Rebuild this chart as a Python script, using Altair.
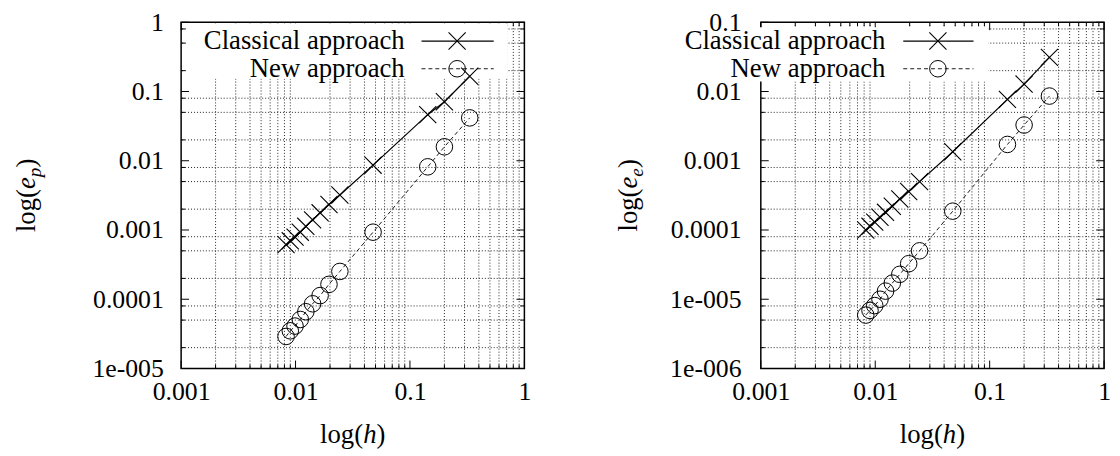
import math
import altair as alt
import pandas as pd

# ---------------- data ----------------
h = [0.333, 0.2, 0.143, 0.0476, 0.0244, 0.0196, 0.0164, 0.0141, 0.0123, 0.011, 0.0099, 0.009, 0.00826]

ep_classical = [0.166, 0.0711, 0.0463, 0.00863, 0.0032, 0.00233, 0.00177, 0.0014, 0.00113,
                0.00093, 0.00079, 0.000698, 0.000614]
ep_new = [0.0416, 0.0159, 0.00817, 0.00093, 0.000252, 0.000164, 0.000113, 0.000086, 0.000066,
          0.000051, 0.000041, 0.000035, 0.000029]

ee_classical = [0.0311, 0.0128, 0.0077, 0.00135, 0.0005, 0.00036, 0.00028, 0.00022, 0.00018,
                0.000153, 0.00013, 0.000113, 0.0001]
ee_new = [0.00859, 0.00328, 0.00172, 0.000187, 0.00005, 0.0000326, 0.0000229, 0.0000171,
          0.0000131, 0.00001, 0.0000081, 0.0000069, 0.0000059]

series_names = ["Classical approach", "New approach"]

x_ticks = [0.001, 0.01, 0.1, 1]
x_labels = ["0.001", "0.01", "0.1", "1"]

yp_ticks = [1, 0.1, 0.01, 0.001, 0.0001, 0.00001]
yp_labels = ["1", "0.1", "0.01", "0.001", "0.0001", "1e-005"]

ye_ticks = [0.1, 0.01, 0.001, 0.0001, 0.00001, 0.000001]
ye_labels = ["0.1", "0.01", "0.001", "0.0001", "1e-005", "1e-006"]

# axis titles: (plain, italic, subscript, plain)
x_title = ("log(", "h", "", ")")
yp_title = ("log(", "e", "p", ")")
ye_title = ("log(", "e", "e", ")")

FONT = "Liberation Serif"
FS = 26        # tick labels
TFS = 27       # axis titles
LFS = 27       # key text
W, H = 347, 350
CROSS = "M-1,-1L1,1M-1,1L1,-1"

# Times / Liberation Serif advance widths (em)
ADV = {"log(": 1.611, "h": 0.5, "e": 0.444, "p": 0.5, ")": 0.333}


def label_expr(values, labels):
    expr = "''"
    for v, l in zip(values, labels):
        e = round(math.log10(v))
        expr = f"(round(log(datum.value)/LN10) == {e} ? '{l}' : {expr})"
    return expr


def minor_positions(lo, hi, mults):
    out = []
    k = round(math.log10(lo))
    while 10 ** k < hi:
        for m in mults:
            v = m * 10 ** k
            if lo < v < hi:
                out.append(v)
        k += 1
    return out


def title_layers(parts, horizontal, center, base):
    """Build an axis title from plain / italic / subscript pieces."""
    one = pd.DataFrame({"a": [0]})
    plain, ital, sub, close = parts
    sfs = TFS * 0.72
    pieces = [(plain, TFS, "normal", 0), (ital, TFS, "italic", 0),
              (sub, sfs, "italic", TFS * 0.22), (close, TFS, "normal", 0)]
    pieces = [p for p in pieces if p[0]]
    widths = [ADV.get(t, 0.5) * fs for t, fs, _, _ in pieces]
    total = sum(widths)
    out = []
    pos = -total / 2
    for (t, fs, style, shift), w in zip(pieces, widths):
        mk = alt.Chart(one).mark_text(
            text=t, font=FONT, fontSize=fs, fontStyle=style, color="black",
            align="left", baseline="alphabetic", angle=0 if horizontal else 270)
        if horizontal:
            enc = dict(x=alt.value(center + pos), y=alt.value(base + shift))
        else:
            enc = dict(y=alt.value(center - pos), x=alt.value(base + shift))
        out.append(mk.encode(**enc))
        pos += w
    return out


def panel(e_cls, e_new, yticks, ylabels, ytitle, leg):
    ydom = [min(yticks), max(yticks)]
    xs = alt.Scale(type="log", domain=[0.001, 1], nice=False)
    ys = alt.Scale(type="log", domain=ydom, nice=False)

    xaxis = alt.Axis(values=x_ticks, labelExpr=label_expr(x_ticks, x_labels), ticks=False,
                     domain=False, grid=False, title=None, labelPadding=10, labelFlush=False)
    yaxis = alt.Axis(values=yticks, labelExpr=label_expr(yticks, ylabels), ticks=False,
                     domain=False, grid=False, title=None, labelPadding=leg["lpad"],
                     labelFlush=False)

    def X(f):
        return alt.X(f, type="quantitative", scale=xs, axis=xaxis)

    def Y(f):
        return alt.Y(f, type="quantitative", scale=ys, axis=yaxis)

    xminor = minor_positions(0.001, 1, range(2, 10))
    ygrid = minor_positions(ydom[0], ydom[1], [2, 5, 8])
    one = pd.DataFrame({"a": [0]})

    grid_style = dict(color="#222", strokeDash=[1, 2], strokeWidth=1)
    layers = [
        alt.Chart(pd.DataFrame({"v": xminor})).mark_rule(**grid_style).encode(x=X("v")),
        alt.Chart(pd.DataFrame({"v": ygrid})).mark_rule(**grid_style).encode(y=Y("v")),
    ]
    tick_style = dict(color="black", strokeWidth=1)
    for vals, ln in ((x_ticks, 8), (xminor, 4)):
        d = pd.DataFrame({"v": vals})
        layers.append(alt.Chart(d).mark_rule(**tick_style).encode(
            x=X("v"), y=alt.value(H), y2=alt.value(H - ln)))
        layers.append(alt.Chart(d).mark_rule(**tick_style).encode(
            x=X("v"), y=alt.value(0), y2=alt.value(ln)))
    for vals, ln in ((yticks, 8), (ygrid, 4)):
        d = pd.DataFrame({"v": vals})
        layers.append(alt.Chart(d).mark_rule(**tick_style).encode(
            y=Y("v"), x=alt.value(0), x2=alt.value(ln)))
        layers.append(alt.Chart(d).mark_rule(**tick_style).encode(
            y=Y("v"), x=alt.value(W), x2=alt.value(W - ln)))

    # opaque key box
    layers.append(alt.Chart(one).mark_rect(color="white").encode(
        x=alt.value(leg["box"][0]), x2=alt.value(leg["box"][1]),
        y=alt.value(leg["box"][2]), y2=alt.value(leg["box"][3])))

    dc = pd.DataFrame({"h": h, "e": e_cls})
    dn = pd.DataFrame({"h": h, "e": e_new})
    layers += [
        alt.Chart(dc).mark_line(color="black", strokeWidth=1.2).encode(x=X("h"), y=Y("e")),
        alt.Chart(dn).mark_line(color="black", strokeWidth=0.9, strokeDash=[4, 3]).encode(
            x=X("h"), y=Y("e")),
        alt.Chart(dc).mark_point(shape=CROSS, size=300, color="black", strokeWidth=1.1,
                                 filled=False, opacity=1).encode(x=X("h"), y=Y("e")),
        alt.Chart(dn).mark_point(shape="circle", size=280, color="black", strokeWidth=1,
                                 filled=False, opacity=1).encode(x=X("h"), y=Y("e")),
    ]

    # key entries
    rows = leg["rows"]
    for i, name in enumerate(series_names):
        yy = rows[i]
        layers.append(alt.Chart(one).mark_text(align="right", baseline="middle", font=FONT,
                                               fontSize=LFS, color="black").encode(
            x=alt.value(leg["text_x"]), y=alt.value(yy), text=alt.value(name)))
        rule_kw = dict(color="black", strokeWidth=1.2) if i == 0 else dict(
            color="black", strokeWidth=0.9, strokeDash=[4, 3])
        layers.append(alt.Chart(one).mark_rule(**rule_kw).encode(
            x=alt.value(leg["line"][0]), x2=alt.value(leg["line"][1]), y=alt.value(yy)))
        if i == 0:
            mk = alt.Chart(one).mark_point(shape=CROSS, size=300, color="black", strokeWidth=1.1,
                                           filled=False, opacity=1)
        else:
            mk = alt.Chart(one).mark_point(shape="circle", size=280, color="black", strokeWidth=1,
                                           filled=False, opacity=1)
        layers.append(mk.encode(x=alt.value(leg["mark"]), y=alt.value(yy)))

    # axis titles
    layers += title_layers(x_title, True, W / 2, H + 75)
    layers += title_layers(ytitle, False, H / 2, leg["ytitle_x"])

    return alt.layer(*layers).properties(width=W, height=H)


left = panel(ep_classical, ep_new, yp_ticks, yp_labels, yp_title,
             dict(box=[5, 330, 1, 57], rows=[19, 47], text_x=226, line=[243, 316], mark=279,
                  lpad=18, ytitle_x=-148))
right = panel(ee_classical, ee_new, ye_ticks, ye_labels, ye_title,
              dict(box=[-2, 230, 5, 60], rows=[19, 47], text_x=126, line=[144, 215], mark=179,
                   lpad=20, ytitle_x=-125))

chart = alt.hconcat(left, right, spacing=83).configure_view(
    stroke="black", strokeWidth=1.5
).configure_axis(
    labelFont=FONT, labelFontSize=FS, labelColor="black",
    titleFont=FONT, titleFontSize=TFS, titleFontWeight="normal", titleColor="black"
).properties(padding={"left": 4, "top": -2, "right": 0, "bottom": 0})

chart.save("out.html", embed_options={"renderer": "svg", "actions": False})
